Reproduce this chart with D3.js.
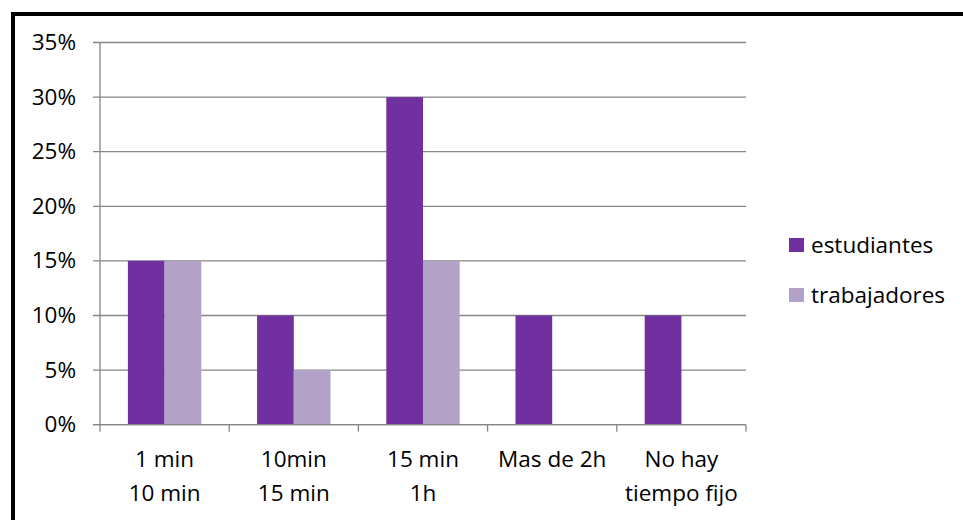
<!DOCTYPE html>
<html><head><meta charset="utf-8">
<script src="https://cdn.jsdelivr.net/npm/d3@7"></script>
<style>body{margin:0;background:#fff}svg{display:block}text{font-family:"Open Sans",sans-serif;fill:#000}</style>
</head><body>
<svg id="c" width="963" height="520"></svg>
<script>
const categories = [["1 min","10 min"],["10min","15 min"],["15 min","1h"],["Mas de 2h"],["No hay","tiempo fijo"]];
const seriesNames = ["estudiantes","trabajadores"];
const estudiantes = [0.15,0.10,0.30,0.10,0.10];
const trabajadores = [0.15,0.05,0.15,0,0];
const yTicks = [0,0.05,0.10,0.15,0.20,0.25,0.30,0.35];
const colors = ["#7030A0","#B3A2C7"];
const FS = 22.5;

const svg = d3.select("#c");
svg.append("rect").attr("x",13).attr("y",14).attr("width",1000).attr("height",600)
  .attr("fill","none").attr("stroke","#000").attr("stroke-width",4);

const L=100,R=746,T=42.5,B=424.7;
const x = d3.scaleBand().domain(d3.range(categories.length)).range([L,R]).paddingInner(0).paddingOuter(0);
const xs = d3.scaleBand().domain(seriesNames).range([0,x.bandwidth()]).paddingInner(0).paddingOuter(0.76);
const y = d3.scaleLinear().domain([0,0.35]).range([B,T]);

svg.append("g").selectAll("line").data(yTicks).join("line")
  .attr("x1",L-7).attr("x2",R).attr("y1",d=>y(d)).attr("y2",d=>y(d))
  .attr("stroke","#868686").attr("stroke-width",1.3);
svg.append("g").selectAll("text").data(yTicks).join("text")
  .attr("x",76).attr("y",d=>y(d)+7.5).attr("text-anchor","end")
  .attr("font-size",FS).text(d=>d3.format(".0%")(d));

const data = [estudiantes,trabajadores];
data.forEach((vals,si)=>{
  svg.append("g").selectAll("rect").data(vals).join("rect")
    .attr("x",(d,i)=>x(i)+xs(seriesNames[si])).attr("width",xs.bandwidth())
    .attr("y",d=>y(d)).attr("height",d=>B-y(d)).attr("fill",colors[si]);
});

svg.append("line").attr("x1",L).attr("x2",L).attr("y1",T).attr("y2",B).attr("stroke","#868686").attr("stroke-width",1.3);
svg.append("line").attr("x1",L-7).attr("x2",R).attr("y1",B).attr("y2",B).attr("stroke","#868686").attr("stroke-width",1.3);
const tickX = d3.range(categories.length+1).map(i=> i<categories.length ? x(i) : R);
svg.append("g").selectAll("line").data(tickX).join("line")
  .attr("x1",d=>d).attr("x2",d=>d).attr("y1",B).attr("y2",B+7)
  .attr("stroke","#868686").attr("stroke-width",1.3);

categories.forEach((lines,i)=>{
  const t = svg.append("text").attr("text-anchor","middle").attr("font-size",FS);
  lines.forEach((ln,j)=>t.append("tspan").attr("x",x(i)+x.bandwidth()/2).attr("y",467+j*34).text(ln));
});

seriesNames.forEach((n,i)=>{
  const yy = 245 + i*50;
  svg.append("rect").attr("x",789).attr("y",yy-7).attr("width",15).attr("height",14).attr("fill",colors[i]);
  svg.append("text").attr("x",811).attr("y",yy+8).attr("font-size",FS).text(n);
});
</script>
</body></html>
